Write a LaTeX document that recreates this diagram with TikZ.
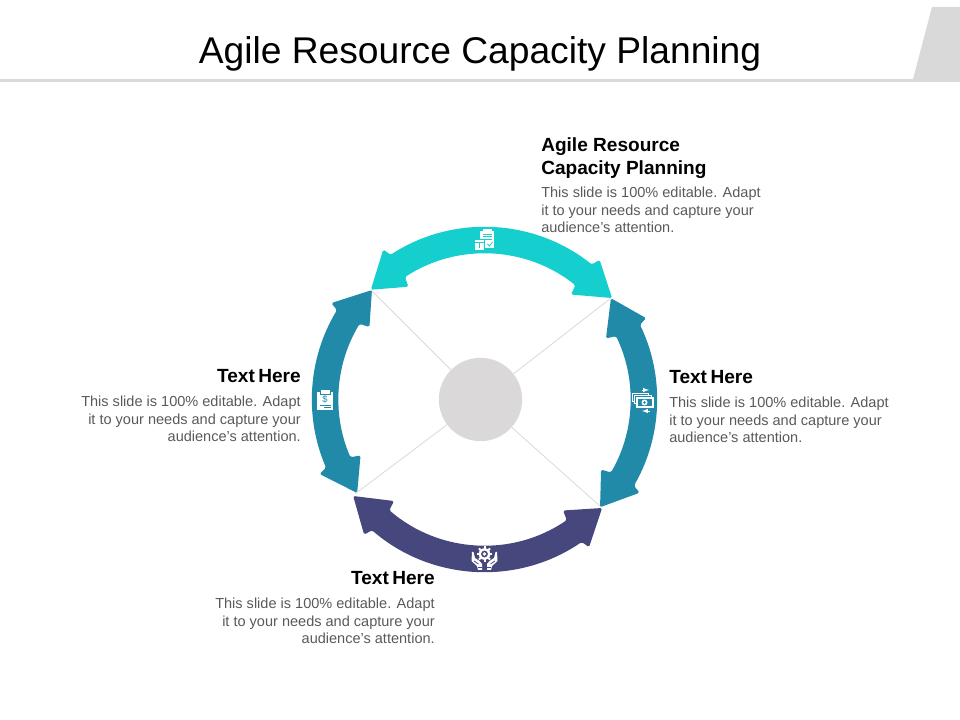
\documentclass[tikz,border=0pt]{standalone}
\usepackage{fontspec}
\setmainfont{Liberation Sans}
\definecolor{ringcyan}{HTML}{15CFCF}
\definecolor{ringteal}{HTML}{218AA8}
\definecolor{ringnavy}{HTML}{46487D}
\definecolor{hubgray}{HTML}{DAD8D9}
\definecolor{rulegray}{HTML}{D9D9D9}
\definecolor{bodygray}{HTML}{595959}
\tikzset{
	headtext/.style={font=\fontsize{14.3}{17.3}\selectfont\bfseries, text=black, inner sep=0pt},
	bodytext/.style={font=\fontsize{10.9}{13.2}\selectfont, text=bodygray, inner sep=0pt},
	spoke/.style={draw=rulegray, line width=0.6pt},
	iconline/.style={line width=0.55pt}
}
% ring arrow: colour, first tip angle, first tip radius, second tip angle, second tip radius
\newcommand{\ringarrow}[5]{
	\fill[#1, rounded corners=1.2pt] (#2:#3) -- (#2-12:181) -- (#2-13:172.5)
	arc[start angle=#2-13, end angle=#4+13, radius=172.5]
	-- (#4+12:181) -- (#4:#5) -- (#4+12:136) -- (#4+13:146)
	arc[start angle=#4+13, end angle=#2-13, radius=146]
	-- (#2-12:136) -- cycle;
}
\begin{document}
\begin{tikzpicture}[x=0.75pt, y=0.75pt]
	\useasboundingbox (0,0) rectangle (960,720);

	% title
	\fill[rulegray] (0,638) rectangle (960,641);
	\fill[rulegray] (913,641) -- (932,713) -- (960,713) -- (960,641) -- cycle;
	\node[font=\fontsize{27.9}{32}\selectfont, text=black, inner sep=0pt] (title) at (480,666) {Agile Resource Capacity Planning};

	% hub and spokes
	\node[circle, fill=hubgray, minimum size=62.5pt, inner sep=0pt] (hub) at (480.5,320.5) {};
	\coordinate (tipnw) at (371,430);
	\coordinate (tipne) at (611,422);
	\coordinate (tipse) at (601,213);
	\coordinate (tipsw) at (355,226);
	\draw[spoke] (hub) -- (tipnw);
	\draw[spoke] (hub) -- (tipne);
	\draw[spoke] (hub) -- (tipse);
	\draw[spoke] (hub) -- (tipsw);

	% ring
	\begin{scope}[shift={(484.5,320.5)}]
	\ringarrow{ringteal}{38.7}{162}{-43}{158}
	\ringarrow{ringteal}{216.3}{158}{135.8}{157}
	\ringarrow{ringcyan}{136}{158}{38.5}{163}
	\ringarrow{ringnavy}{-42.7}{160}{-143.7}{163}
	\end{scope}

	% top icon
	\begin{scope}[shift={(484.5,480)}]
	\fill[white] (-4.5,-8) rectangle (9.5,8.5);
	\fill[white] (-2,8) rectangle (7,10.5);
	\draw[ringcyan, iconline] (-2,6) -- (7,6) (-2,3.5) -- (7,3.5) (-2,1) -- (7,1);
	\draw[ringcyan, iconline] (3,-4) -- (5,-6) -- (8,-2);
	\fill[white, draw=ringcyan, iconline] (-10,-10.5) rectangle (0,1);
	\draw[ringcyan, iconline] (-10,-2) -- (0,-2) (-5,-2) -- (-5,-8);
	\end{scope}

	% left icon
	\begin{scope}[shift={(325,320)}]
	\fill[white] (-8,-10) rectangle (8,8);
	\fill[white, draw=ringteal, iconline] (-5,5.5) rectangle (5,10.5);
	\node[font=\fontsize{7}{7}\selectfont, text=ringteal, inner sep=0pt] (dollar) at (0,0.5) {\$};
	\draw[ringteal, iconline] (-5,-5) -- (6,-5) (-1,-7.5) -- (6,-7.5);
	\end{scope}

	% right icon
	\begin{scope}[shift={(643,320)}]
	\draw[white, iconline, fill=ringteal] (-11,-1) rectangle (5,7);
	\draw[white, iconline, fill=ringteal] (-9,-3.5) rectangle (8,5);
	\fill[white] (-7,-8) rectangle (10.5,3);
	\fill[ringteal] (-5,-6) rectangle (8.5,1);
	\fill[white] (1.5,-2.5) circle (3);
	\fill[ringteal] (1.5,-2.5) circle (1.4);
	\draw[white, iconline, -latex] (-1,10) -- (6,10);
	\draw[white, iconline, -latex] (7,-11) -- (-1,-11);
	\end{scope}

	% bottom icon
	\begin{scope}[shift={(484.5,160)}]
	\foreach \ang in {0,45,...,315}
		\fill[white, rotate around={\ang:(0,6)}] (-1,11) rectangle (1,13.8);
	\fill[white] (0,6) circle (5.8);
	\fill[ringnavy] (0,6) circle (3.4);
	\fill[white] (0,6) circle (1.8);
	\fill[white] (-12.5,8) -- (-11,8) -- (-9.5,2) -- (-5,-1) -- (-2.5,-4) -- (-2.5,-10) -- (-6.5,-10) -- (-7.5,-6) -- (-13,-1) -- cycle;
	\fill[white] (12.5,8) -- (11,8) -- (9.5,2) -- (5,-1) -- (2.5,-4) -- (2.5,-10) -- (6.5,-10) -- (7.5,-6) -- (13,-1) -- cycle;
	\draw[ringnavy, iconline] (-10.5,-1) -- (-6,-4) (10.5,-1) -- (6,-4) (-6.5,-7.5) -- (-2.5,-7.5) (6.5,-7.5) -- (2.5,-7.5);
	\end{scope}

	% labels
	\node[headtext, anchor=north west, align=left] (headtop) at (541,583) {Agile Resource\\Capacity Planning};
	\node[bodytext, anchor=north west, align=left] (bodytop) at (541,533) {This slide is 100\% editable. Adapt\\it to your needs and capture your\\audience's attention.};

	\node[headtext, anchor=north west, align=left] (headright) at (669,349.5) {\spaceskip=2.6pt Text Here};
	\node[bodytext, anchor=north west, align=left] (bodyright) at (669,323) {This slide is 100\% editable. Adapt\\it to your needs and capture your\\audience's attention.};

	\node[headtext, anchor=north east, align=right] (headleft) at (301,350.5) {\spaceskip=2.6pt Text Here};
	\node[bodytext, anchor=north east, align=right] (bodyleft) at (301,324) {This slide is 100\% editable. Adapt\\it to your needs and capture your\\audience's attention.};

	\node[headtext, anchor=north east, align=right] (headbottom) at (435,148.5) {\spaceskip=2.6pt Text Here};
	\node[bodytext, anchor=north east, align=right] (bodybottom) at (435,122) {This slide is 100\% editable. Adapt\\it to your needs and capture your\\audience's attention.};

\end{tikzpicture}
\end{document}
